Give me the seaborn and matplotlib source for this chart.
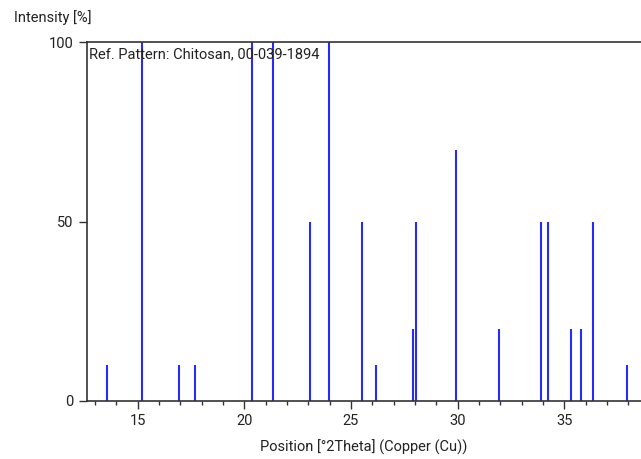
import numpy as np
import seaborn as sns
import matplotlib
matplotlib.use("Agg")
import matplotlib.pyplot as plt
from matplotlib.ticker import MultipleLocator

# Reference pattern: Chitosan 00-039-1894 (peak position, relative intensity)
position = [13.56, 15.21, 16.96, 17.71, 20.35, 21.34, 23.08, 23.97, 25.51, 26.15,
            27.90, 28.07, 29.94, 31.93, 33.92, 34.22, 35.31, 35.78, 36.36, 37.94]
intensity = [10, 100, 10, 10, 100, 100, 50, 100, 50, 10,
             20, 50, 70, 20, 50, 50, 20, 20, 50, 10]
yticks = [0, 50, 100]
xticks = [15, 20, 25, 30, 35]

sns.set_theme()
sns.set_style("white")
plt.rcParams['font.family'] = ['Roboto', 'DejaVu Sans']
fontsize = 10.5

fig = plt.figure(figsize=(6.41, 4.59), dpi=100)
ax = fig.add_axes([87 / 641, 1 - 401 / 459, 1 - 87 / 641, (401 - 42) / 459])

ax.vlines(position, 0, intensity, color="#2a2af5", linewidth=1.5)

ax.set_xlim(12.63, 38.59)
ax.set_ylim(0, 100)
ax.set_xticks(xticks)
ax.set_yticks(yticks)
ax.xaxis.set_minor_locator(MultipleLocator(1))
ax.tick_params(axis="both", which="major", direction="out", length=6, width=1,
               color="#333333", labelsize=fontsize, bottom=True, left=True,
               labelcolor="#222222")
ax.tick_params(axis="x", which="minor", direction="out", length=3, width=1,
               color="#333333", bottom=True)

for side in ["left", "top", "bottom"]:
    ax.spines[side].set_visible(True)
    ax.spines[side].set_color("#333333")
    ax.spines[side].set_linewidth(1.2)
ax.spines["right"].set_visible(False)

ax.set_xlabel("Position [°2Theta] (Copper (Cu))", fontsize=fontsize, labelpad=8,
              color="#222222")
ax.text(0.004, 0.985, "Ref. Pattern: Chitosan, 00-039-1894", transform=ax.transAxes,
        ha="left", va="top", fontsize=fontsize, color="#222222")
fig.text(14 / 641, 1 - 18 / 459, "Intensity [%]", ha="left", va="center",
         fontsize=fontsize, color="#222222")

fig.savefig("out.png", dpi=100)
